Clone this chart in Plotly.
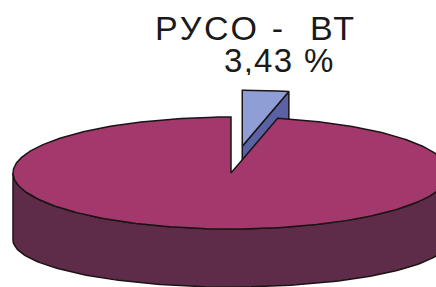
import numpy as np
import plotly.graph_objects as go

# ---- data ----
categories = ["РУСО - ВТ", "Прочие"]
shares = [3.43, 96.57]
label_category = "РУСО -\u00a0\u00a0ВТ"
label_value = f"{shares[0]:.2f}".replace(".", ",") + " %"

# ---- style / geometry (pixel space of the page) ----
W, H = 436, 287
CX, CY, RX, RY = 231, 173, 218, 56      # top face ellipse
BCY, BRY = 240, 47                      # bottom ellipse (perspective)
EXPLODE = 0.48
START = 90.0
TOP_COLORS = ["#8F9ED4", "#A3386C"]
SIDE_COLORS = ["#5A62A5", "#5E2C48"]
EDGE = "#1b1414"

total = sum(shares)
angles = [START]
for v in shares:
    angles.append(angles[-1] - 360.0 * v / total)


def top(t, dx=0.0, dy=0.0):
    r = np.radians(t)
    return CX + RX * np.cos(r) + dx, CY - RY * np.sin(r) + dy


def bot(t, dx=0.0, dy=0.0):
    r = np.radians(t)
    return CX + RX * np.cos(r) + dx, BCY - BRY * np.sin(r) + dy


def arc(f, a0, a1, n=120, dx=0.0, dy=0.0):
    ts = np.linspace(a0, a1, n)
    pts = [f(t, dx, dy) for t in ts]
    return [p[0] for p in pts], [p[1] for p in pts]


fig = go.Figure()


def poly(xs, ys, color):
    fig.add_trace(go.Scatter(x=list(xs) + [xs[0]], y=list(ys) + [ys[0]], mode="lines",
                             fill="toself", fillcolor=color,
                             line=dict(color=EDGE, width=1.5), hoverinfo="skip"))


# exploded slice (slice 0)
a0, a1 = angles[0], angles[1]
mid = np.radians((a0 + a1) / 2)
dx, dy = EXPLODE * RX * np.cos(mid), -EXPLODE * RY * np.sin(mid)
tx, ty = top(a1, dx, dy)
bx, by = bot(a1, dx, dy)
poly([CX + dx, tx, bx, CX + dx], [CY + dy, ty, by, BCY + dy], SIDE_COLORS[0])
ax_, ay_ = arc(top, a0, a1, dx=dx, dy=dy)
poly([CX + dx] + ax_, [CY + dy] + ay_, TOP_COLORS[0])

# main slice (slice 1): front rim then top face
b0, b1 = angles[1], angles[2]
lo, hi = max(-180.0, b1), min(0.0, b0)
sx, sy = arc(top, lo, hi)
bx2, by2 = arc(bot, hi, lo)
poly(sx + bx2, sy + by2, SIDE_COLORS[1])
mx, my = arc(top, b0, b1, n=400)
poly([CX] + mx, [CY] + my, TOP_COLORS[1])

font = dict(family="Liberation Sans, Arial, sans-serif", size=34, color="#1a1a1a")
fig.add_annotation(x=153, y=27.5, text=f'<span style="letter-spacing:2.7px">{label_category}</span>',
                   showarrow=False, xanchor="left", yanchor="middle", font=font, height=30)
fig.add_annotation(x=222, y=60, text=f'<span style="letter-spacing:1.3px">{label_value}</span>',
                   showarrow=False, xanchor="left", yanchor="middle",
                   font=dict(font, size=33), height=30)

fig.update_layout(width=W, height=H, margin=dict(l=0, r=0, t=0, b=0),
                  paper_bgcolor="white", plot_bgcolor="white", showlegend=False,
                  xaxis=dict(range=[0, W], visible=False, fixedrange=True),
                  yaxis=dict(range=[H, 0], visible=False, fixedrange=True))
fig.write_html("out.html", config={"displayModeBar": False},
               post_script="document.body.style.margin='0';document.body.style.overflow='hidden';")
